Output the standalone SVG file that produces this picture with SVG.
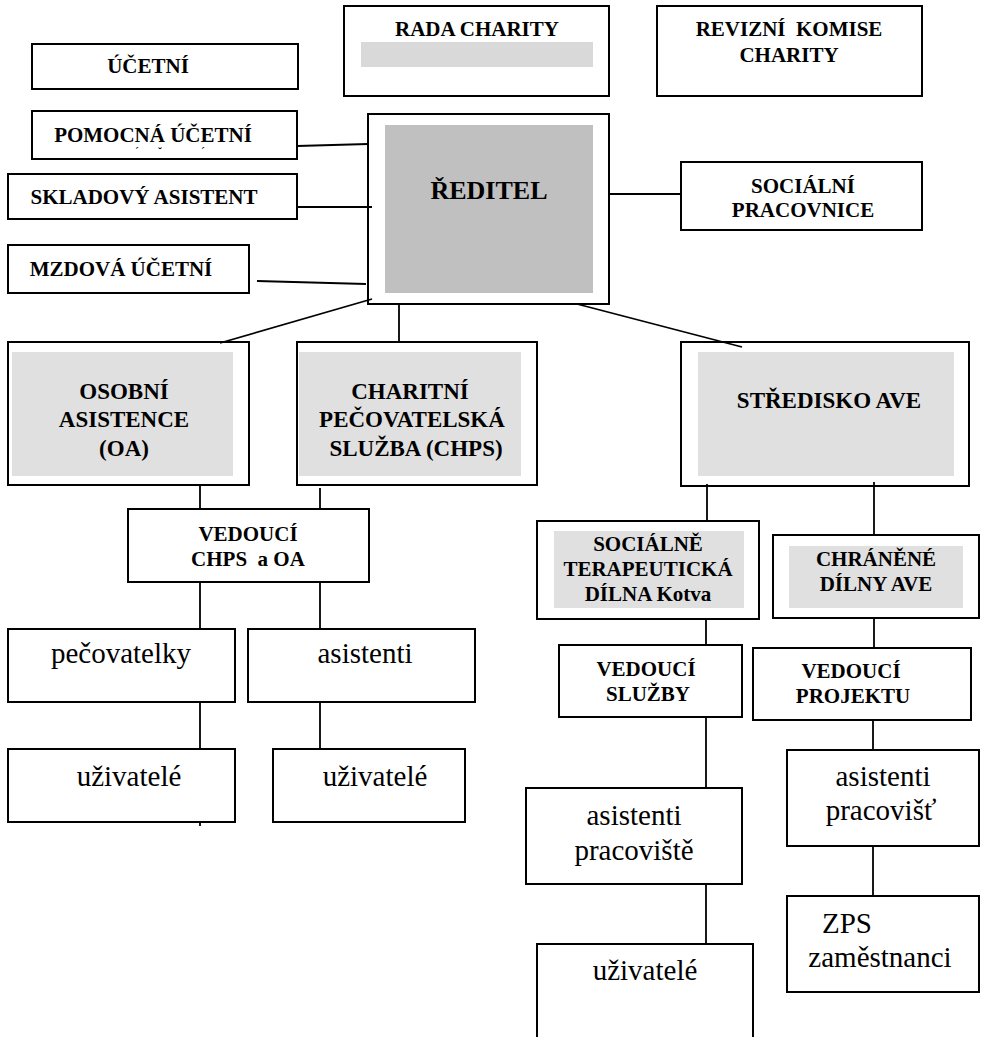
<svg xmlns="http://www.w3.org/2000/svg" width="983" height="1037" viewBox="0 0 983 1037">
<style>
.box{fill:#fff;stroke:#000;stroke-width:2}
.open{fill:none;stroke:#000;stroke-width:2}
.g1{fill:#c0c0c0}
.g2{fill:#e0e0e0}
.g3{fill:#d9d9d9}
text{font-family:"Liberation Serif","Times New Roman",Times,"DejaVu Serif",serif}
.b{font-weight:bold;font-size:21px;fill:#000;text-anchor:middle}
.bl{font-size:23px}
.r{font-size:29px;fill:#000;text-anchor:middle}
.m{font-size:12px}
.c line{stroke:#000;stroke-width:1.8}
</style>
<g id="rada">
<rect class="box" x="344" y="6" width="265" height="90"/>
<rect class="g3" x="361" y="42" width="232" height="25"/>
<text class="b" x="477" y="36">RADA CHARITY</text>
</g>
<g id="revizni">
<rect class="box" x="657" y="6" width="265" height="90"/>
<text class="b" x="789" y="36" xml:space="preserve">REVIZNÍ  KOMISE</text>
<text class="b" x="789" y="62">CHARITY</text>
</g>
<g id="ucetni">
<rect class="box" x="32" y="44" width="266" height="45"/>
<text class="b" x="148" y="73">ÚČETNÍ</text>
</g>
<g id="pomocna">
<rect class="box" x="32" y="111" width="265" height="48"/>
<text class="b" x="153" y="142">POMOCNÁ ÚČETNÍ</text>
<text class="m" x="135" y="156">ˊ</text>
<text class="m" x="158" y="156">˘</text>
<text class="m" x="201" y="156">ˊ</text>
</g>
<g id="skladovy">
<rect class="box" x="8" y="174" width="289" height="45"/>
<text class="b" x="144" y="204">SKLADOVÝ ASISTENT</text>
</g>
<g id="mzdova">
<rect class="box" x="8" y="245" width="241" height="48"/>
<text class="b" x="121" y="276">MZDOVÁ ÚČETNÍ</text>
</g>
<g id="reditel">
<rect class="box" x="368" y="114" width="241" height="190"/>
<rect class="g1" x="385" y="125" width="208" height="168"/>
<text class="b" x="489" y="199" style="font-size:26px">ŘEDITEL</text>
</g>
<g id="socialni">
<rect class="box" x="681" y="162" width="241" height="68"/>
<text class="b" x="803" y="193">SOCIÁLNÍ</text>
<text class="b" x="803" y="217">PRACOVNICE</text>
</g>
<g id="oa">
<rect class="box" x="8" y="342" width="241" height="143"/>
<rect class="g2" x="12" y="352" width="221" height="124"/>
<text class="b bl" x="124" y="399">OSOBNÍ</text>
<text class="b bl" x="124" y="427">ASISTENCE</text>
<text class="b bl" x="124" y="456">(OA)</text>
</g>
<g id="chps">
<rect class="box" x="297" y="342" width="240" height="143"/>
<rect class="g2" x="299" y="352" width="222" height="124"/>
<text class="b bl" x="410" y="399">CHARITNÍ</text>
<text class="b bl" x="412" y="427">PEČOVATELSKÁ</text>
<text class="b bl" x="416" y="456">SLUŽBA (CHPS)</text>
</g>
<g id="ave">
<rect class="box" x="681" y="342" width="288" height="144"/>
<rect class="g2" x="698" y="352" width="256" height="124"/>
<text class="b bl" x="829" y="408">STŘEDISKO AVE</text>
</g>
<g id="vedouci-chps">
<rect class="box" x="128" y="509" width="241" height="73"/>
<text class="b" x="248" y="541">VEDOUCÍ</text>
<text class="b" x="248" y="566" xml:space="preserve">CHPS  a OA</text>
</g>
<g id="std">
<rect class="box" x="537" y="521" width="222" height="98"/>
<rect class="g2" x="554" y="531" width="190" height="77"/>
<text class="b" x="648" y="551">SOCIÁLNĚ</text>
<text class="b" x="648" y="576">TERAPEUTICKÁ</text>
<text class="b" x="648" y="601">DÍLNA Kotva</text>
</g>
<g id="chranene">
<rect class="box" x="773" y="535" width="206" height="83"/>
<rect class="g2" x="789" y="546" width="174" height="62"/>
<text class="b" x="876" y="566">CHRÁNĚNÉ</text>
<text class="b" x="876" y="591">DÍLNY AVE</text>
</g>
<g id="pecovatelky">
<rect class="box" x="8" y="629" width="227" height="73"/>
<text class="r" x="121" y="663">pečovatelky</text>
</g>
<g id="asistenti">
<rect class="box" x="248" y="629" width="227" height="73"/>
<text class="r" x="365" y="663">asistenti</text>
</g>
<g id="vedouci-sluzby">
<rect class="box" x="559" y="645" width="183" height="72"/>
<text class="b" x="646" y="676">VEDOUCÍ</text>
<text class="b" x="648" y="701">SLUŽBY</text>
</g>
<g id="vedouci-projektu">
<rect class="box" x="753" y="648" width="218" height="72"/>
<text class="b" x="851" y="678">VEDOUCÍ</text>
<text class="b" x="853" y="703">PROJEKTU</text>
</g>
<g id="uzivatele1">
<rect class="box" x="8" y="749" width="227" height="73"/>
<text class="r" x="129" y="786">uživatelé</text>
</g>
<g id="uzivatele2">
<rect class="box" x="273" y="749" width="192" height="73"/>
<text class="r" x="375" y="786">uživatelé</text>
</g>
<g id="asistenti-pracovist">
<rect class="box" x="787" y="750" width="192" height="96"/>
<text class="r" x="883" y="786">asistenti</text>
<text class="r" x="881" y="820">pracovišť</text>
</g>
<g id="asistenti-pracoviste">
<rect class="box" x="526" y="788" width="216" height="96"/>
<text class="r" x="634" y="825">asistenti</text>
<text class="r" x="634" y="860">pracoviště</text>
</g>
<g id="zps">
<rect class="box" x="787" y="896" width="192" height="96"/>
<text class="r" x="822" y="933" style="text-anchor:start">ZPS</text>
<text class="r" x="880" y="967">zaměstnanci</text>
</g>
<g id="uzivatele3">
<path class="open" d="M537,1040 V944 H753 V1040"/>
<text class="r" x="645" y="980">uživatelé</text>
</g>
<g id="connectors" class="c">
<line x1="297" y1="146" x2="368" y2="144"/>
<line x1="297" y1="207" x2="372" y2="207"/>
<line x1="257" y1="281" x2="366" y2="284"/>
<line x1="372" y1="299" x2="220" y2="343"/>
<line x1="399" y1="304" x2="399" y2="342"/>
<line x1="577" y1="304" x2="742" y2="347"/>
<line x1="609" y1="194" x2="681" y2="194"/>
<line x1="200" y1="485" x2="200" y2="509"/>
<line x1="320" y1="488" x2="320" y2="509"/>
<line x1="200" y1="582" x2="200" y2="629"/>
<line x1="320" y1="582" x2="320" y2="629"/>
<line x1="200" y1="702" x2="200" y2="749"/>
<line x1="320" y1="702" x2="320" y2="749"/>
<line x1="200" y1="822" x2="200" y2="826"/>
<line x1="707" y1="484" x2="707" y2="521"/>
<line x1="874" y1="482" x2="874" y2="535"/>
<line x1="706" y1="619" x2="706" y2="645"/>
<line x1="874" y1="618" x2="874" y2="648"/>
<line x1="706" y1="717" x2="706" y2="788"/>
<line x1="873" y1="720" x2="873" y2="750"/>
<line x1="706" y1="884" x2="706" y2="944"/>
<line x1="873" y1="846" x2="873" y2="896"/>
</g>
</svg>
